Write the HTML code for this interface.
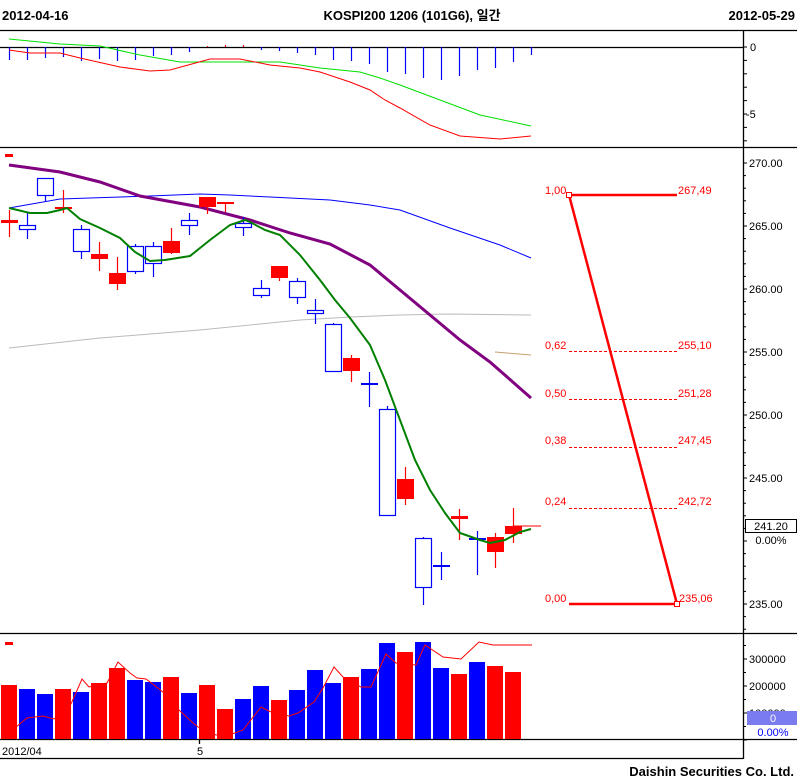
<!DOCTYPE html>
<html><head><meta charset="utf-8"><style>
html,body{margin:0;padding:0;background:#fff;}
svg{display:block;font-family:"Liberation Sans","Noto Sans CJK KR",sans-serif;}
</style></head><body>
<svg width="797" height="783" viewBox="0 0 797 783" xmlns="http://www.w3.org/2000/svg">
<rect width="797" height="783" fill="#fff"/>
<g font-weight="bold" font-size="13" fill="#000">
<text x="2" y="20">2012-04-16</text>
<text x="412" y="20" text-anchor="middle">KOSPI200 1206 (101G6), 일간</text>
<text x="795" y="20" text-anchor="end">2012-05-29</text>
<text x="794" y="776" text-anchor="end">Daishin Securities Co. Ltd.</text>
</g>
<g stroke="#000" stroke-width="1.3">
<line x1="0" y1="30.5" x2="797" y2="30.5"/>
<line x1="0" y1="147.5" x2="797" y2="147.5"/>
<line x1="0" y1="633.5" x2="797" y2="633.5"/>
<line x1="0" y1="739.5" x2="797" y2="739.5"/>
<line x1="0" y1="758.5" x2="743" y2="758.5"/>
<line x1="743.5" y1="30" x2="743.5" y2="759"/>
<line x1="0" y1="47.5" x2="743" y2="47.5"/>
<line x1="199.5" y1="739" x2="199.5" y2="744"/>
</g>
<g id="ticks" stroke="#000" stroke-width="1"></g>
<g font-size="11" fill="#000">
<text x="750" y="51">0</text><text x="746" y="118">-5</text>
<text x="749" y="167">270.00</text><text x="749" y="230">265.00</text><text x="749" y="293">260.00</text>
<text x="749" y="356">255.00</text><text x="749" y="419">250.00</text><text x="749" y="482">245.00</text>
<text x="749" y="608">235.00</text>
<text x="749" y="663">300000</text><text x="749" y="690">200000</text><text x="749" y="717">100000</text>
<text x="2" y="755">2012/04</text><text x="197" y="755">5</text>
</g>
<rect x="745.5" y="519.5" width="51" height="13" fill="#fff" stroke="#000"/>
<text x="771" y="530" font-size="11" text-anchor="middle">241.20</text>
<text x="771" y="544" font-size="11" text-anchor="middle">0.00%</text>
<rect x="747" y="711" width="50" height="14" fill="#7b7bf0"/>
<text x="773" y="722" font-size="11" fill="#fff" text-anchor="middle">0</text>
<text x="773" y="736" font-size="11" fill="#00f" text-anchor="middle">0.00%</text>
<rect x="5" y="154" width="8" height="3" fill="#f00"/>
<rect x="5" y="642" width="8" height="3" fill="#f00"/>
<g id="macd"></g>
<polyline fill="none" stroke="#00e000" stroke-width="1" points="9,39 60,44 100,46 140,55 180,62 220,62 280,62 320,68 360,72 380,78 400,85 440,100 480,115 531,126"/>
<polyline fill="none" stroke="#f00" stroke-width="1" points="9,50 30,53 60,53 80,58 120,67 150,71 170,70 210,59 240,59 270,65 300,68 320,72 350,82 370,90 385,100 400,108 430,125 460,136 500,139 531,136"/>
<polyline fill="none" stroke="#bbb" stroke-width="1" points="9,348 100,338 200,330 300,320 350,317 400,315 450,314 531,315"/>
<polyline fill="none" stroke="#c8a070" stroke-width="1" points="495,352 531,355"/>
<polyline fill="none" stroke="#00f" stroke-width="1" points="9,208 60,199 90,198 150,196 200,194 230,195 270,197 330,200 370,205 400,210 450,228 500,245 531,258"/>
<polyline fill="none" stroke="#800080" stroke-width="3" points="9,165 60,172 100,182 140,196 200,207 250,220 290,233 330,244 370,265 400,290 430,315 460,340 490,362 531,398"/>
<g id="candles"></g>
<polyline fill="none" stroke="#008000" stroke-width="2" points="9,208 30,213 47,213 60,210 67,208 80,219 100,228 120,238 135,252 150,261 165,260 190,256 210,240 230,225 245,220 250,222 265,230 280,235 300,255 320,280 335,300 350,318 370,345 385,380 400,420 415,460 430,490 445,513 460,533 480,540 490,543 505,540 520,532 531,529"/>
<line x1="514" y1="526" x2="541" y2="526" stroke="#f00" stroke-width="1"/>
<g fill="#f00" font-size="11">
<text x="545" y="194">1,00</text><text x="678" y="194">267,49</text>
<text x="545" y="349">0,62</text><text x="678" y="349">255,10</text>
<text x="545" y="397">0,50</text><text x="678" y="397">251,28</text>
<text x="545" y="444">0,38</text><text x="678" y="444">247,45</text>
<text x="545" y="505">0,24</text><text x="678" y="505">242,72</text>
<text x="545" y="602">0,00</text><text x="679" y="602">235,06</text>
</g>
<g stroke="#f00">
<line x1="569" y1="195" x2="677" y2="195" stroke-width="2.5"/>
<line x1="569" y1="604" x2="677" y2="604" stroke-width="2.5"/>
<line x1="569" y1="351.5" x2="677" y2="351.5" stroke-dasharray="3,2"/>
<line x1="569" y1="399.5" x2="677" y2="399.5" stroke-dasharray="3,2"/>
<line x1="569" y1="447.5" x2="677" y2="447.5" stroke-dasharray="3,2"/>
<line x1="569" y1="508.5" x2="677" y2="508.5" stroke-dasharray="3,2"/>
<line x1="569" y1="195" x2="677" y2="604" stroke-width="2.5"/>
<rect x="566.5" y="192.5" width="5" height="5" fill="#fff" stroke-width="1"/>
<rect x="674.5" y="601.5" width="5" height="5" fill="#fff" stroke-width="1"/>
</g>
<g id="vol"></g>
<polyline fill="none" stroke="#f00" stroke-width="1" points="2,728 16,727 27,718 43,716 54,719 71,704 82,679 89,687 107,683 118,662 130,673 137,678 146,679 154,685 164,693 179,710 193,723 198,727 216,735 232,734 243,730 261,707 271,712 289,716 298,713 314,702 323,688 334,667 343,677 361,687 371,687 386,654 396,663 416,665 425,645 443,657 461,659 479,642 493,645 532,645"/>
</svg>
<script>
var NS="http://www.w3.org/2000/svg";
function el(p,t,a){var e=document.createElementNS(NS,t);for(var k in a)e.setAttribute(k,a[k]);p.appendChild(e);return e;}
var tk=document.getElementById("ticks");
for(var y=47;y<=147;y+=13.4)el(tk,"line",{x1:743,y1:y,x2:747,y2:y,stroke:"#000"});
for(var i=0;i<38;i++){var y=163+i*12.6;if(y>630)break;el(tk,"line",{x1:743,y1:y,x2:(i%5==0?747:746),y2:y,stroke:"#000"});}
for(var i=0;i<10;i++){var y=740-i*13.5;if(y<636)break;el(tk,"line",{x1:743,y1:y,x2:(i%2==0?747:746),y2:y,stroke:"#000"});}
var m=document.getElementById("macd");
var mh=[60,60,58,57,61,59,61,60,56,55,52,46,45,45,50,51,53,55,60,61,64,72,74,78,80,76,70,68,62,55];
for(var i=0;i<mh.length;i++){var x=9.5+18*i;var v=mh[i];el(m,"line",{x1:x,y1:47,x2:x,y2:v,stroke:v<47?"#f00":"#00f","stroke-width":1.2});}
var C=[["r",220,223,210,237],["b",225,229,213,239],["b",178,195,178,201],["r",207,209,190,213],["b",229,251,225,259],["r",254,259,242,271],["r",273,284,257,290],["b",246,271,244,274],["b",246,263,242,277],["r",241,253,228,254],["b",220,225,213,235],["r",197,207,197,214],["r",202,204,202,212],["b",223,227,217,236],["b",288,295,280,298],["r",266,278,266,281],["b",281,297,278,304],["b",310,313,299,324],["b",324,371,323,371],["r",358,371,355,382],["b",383,385,372,407],["b",409,515,406,515],["r",479,499,467,505],["b",538,587,537,605],["b",565,567,552,580],["r",516,519,509,540],["b",538,540,531,575],["r",537,552,533,568],["r",526,534,508,543]];
var cg=document.getElementById("candles");
C.forEach(function(c,i){var x0=1+18*i,xc=x0+8.5,col=c[0]=="r"?"#f00":"#00f";
el(cg,"line",{x1:xc,y1:c[3],x2:xc,y2:c[4],stroke:col,"stroke-width":1.2});
var h=c[2]-c[1];
if(c[0]=="r"){el(cg,"rect",{x:x0,y:c[1],width:17,height:Math.max(h,2),fill:col});}
else{if(h<=2)el(cg,"rect",{x:x0,y:c[1],width:17,height:Math.max(h,2),fill:col});else el(cg,"rect",{x:x0+0.5,y:c[1]+0.5,width:16,height:h,fill:"#fff",stroke:col,"stroke-width":1.2});}
});
var V=[685,689,694,689,692,683,668,680,682,677,693,685,709,699,686,700,690,670,683,677,669,643,652,642,668,674,662,666,672];
var vg=document.getElementById("vol");
V.forEach(function(v,i){el(vg,"rect",{x:1+18*i,y:v,width:16,height:739-v,fill:C[i][0]=="r"?"#f00":"#00f"});});
</script>
</body></html>
